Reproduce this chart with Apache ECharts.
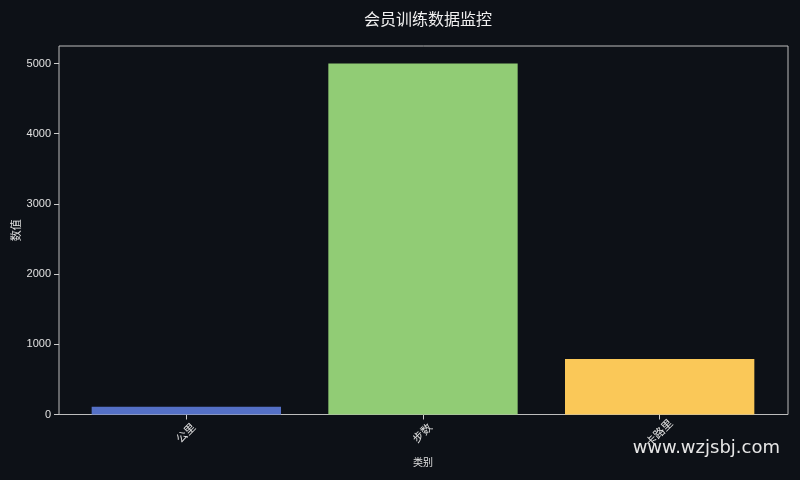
<!DOCTYPE html>
<html>
<head>
<meta charset="utf-8">
<script src="https://cdn.jsdelivr.net/npm/echarts@6/dist/echarts.min.js"></script>
<style>
html,body{margin:0;padding:0;background:#0d1117;}
#c{width:800px;height:480px;}
</style>
</head>
<body>
<div id="c"></div>
<script>
const categories = ['公里', '步数', '卡路里'];
const values = [110, 5000, 790];
const barColors = ['#5470c6', '#91cc75', '#fac858'];
const yTicks = [0, 1000, 2000, 3000, 4000, 5000];
const yMin = 0;
const yMax = 5250;
const titleText = '会员训练数据监控';
const xName = '类别';
const yName = '数值';
const watermark = 'www.wzjsbj.com';

const FONT = '"Liberation Sans", "Noto Sans CJK SC", sans-serif';
const TXT = '#e0e0e0';

const chart = echarts.init(document.getElementById('c'), null, {renderer: 'canvas'});
chart.setOption({
  backgroundColor: '#0d1117',
  animation: false,
  title: {
    text: titleText,
    left: 423,
    textAlign: 'center',
    top: 6,
    textStyle: {color: '#f0f0f0', fontSize: 16, fontWeight: 'normal', fontFamily: '"Noto Sans CJK SC", sans-serif'}
  },
  grid: [
    {left: 68, right: 22, top: 46, bottom: 65.5, containLabel: false, outerBoundsMode: 'none'},
    {left: 59, right: 12, top: 46, bottom: 65.5, containLabel: false, outerBoundsMode: 'none', show: true, borderColor: '#bdbdbd', borderWidth: 1, backgroundColor: 'transparent'}
  ],
  xAxis: [
    {
      type: 'category', gridIndex: 0, data: categories,
      name: xName, nameLocation: 'middle', nameGap: 44, nameMoveOverlap: false,
      nameTextStyle: {color: TXT, fontSize: 10, fontFamily: FONT},
      axisLine: {show: false},
      axisTick: {show: true, alignWithLabel: true, length: 5, lineStyle: {color: '#cccccc'}},
      axisLabel: {rotate: 45, align: 'center', verticalAlign: 'middle', margin: 19, color: TXT, fontSize: 11, fontFamily: FONT},
      splitLine: {show: false}
    },
    {type: 'value', gridIndex: 1, min: 0, max: 1, show: false}
  ],
  yAxis: [
    {type: 'value', gridIndex: 0, min: yMin, max: yMax, show: false},
    {
      type: 'value', gridIndex: 1, min: yMin, max: yMax,
      name: yName, nameLocation: 'middle', nameGap: 37, nameMoveOverlap: false,
      nameTextStyle: {color: TXT, fontSize: 11, fontFamily: FONT},
      axisLine: {show: false},
      axisTick: {show: true, length: 5, customValues: yTicks, lineStyle: {color: '#cccccc'}},
      axisLabel: {customValues: yTicks, formatter: v => String(v), margin: 8, color: TXT, fontSize: 11, fontFamily: FONT},
      splitLine: {show: false}
    }
  ],
  series: [{
    type: 'bar',
    xAxisIndex: 0, yAxisIndex: 0,
    barWidth: '80%',
    data: values.map((v, i) => ({value: v, itemStyle: {color: barColors[i]}}))
  }],
  graphic: [{
    type: 'text',
    right: 20,
    top: 439,
    style: {text: watermark, fill: '#e6e6e6', fontSize: 18, fontFamily: '"DejaVu Sans", sans-serif'}
  }]
});
</script>
</body>
</html>
